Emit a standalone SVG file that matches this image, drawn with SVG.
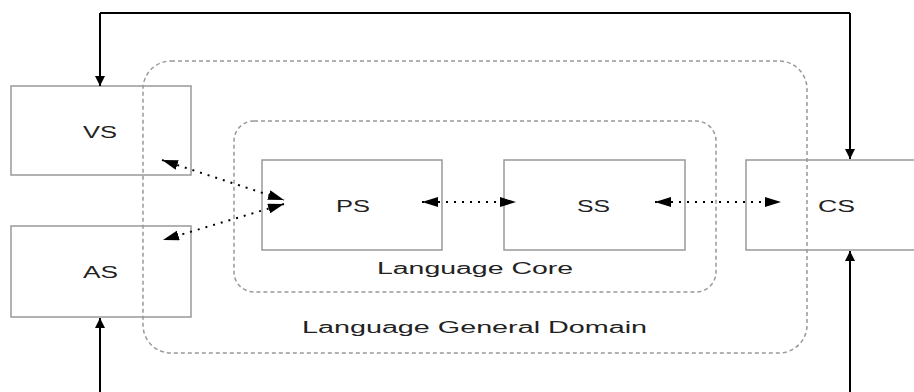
<svg xmlns="http://www.w3.org/2000/svg" width="914" height="392" viewBox="0 0 914 392">
<defs>
<marker id="ah" viewBox="0 0 10 10" refX="10" refY="5" markerWidth="10" markerHeight="10" markerUnits="userSpaceOnUse" orient="auto-start-reverse">
<path d="M0,0 L10,5 L0,10 z" fill="#000"/>
</marker>
<marker id="ad" viewBox="0 0 16 10" refX="16" refY="5" markerWidth="16" markerHeight="10" markerUnits="userSpaceOnUse" orient="auto-start-reverse">
<path d="M0,0 L16,5 L0,10 z" fill="#000"/>
</marker>
</defs>
<style>
.box{fill:none;stroke:#999;stroke-width:1.5}
.grp{fill:none;stroke:#999;stroke-width:1.5;stroke-dasharray:4 3}
.t{font-family:"Liberation Sans",Arial,sans-serif;font-size:16px;fill:#222}
.solid{fill:none;stroke:#000;stroke-width:2}
.dot{fill:none;stroke:#000;stroke-width:2;stroke-dasharray:2 6}
</style>
<rect x="0" y="0" width="914" height="392" fill="#fff"/>
<g id="LanguageGeneralDomain"><rect class="grp" x="143" y="61" width="664" height="292" rx="28"/><text class="t" x="302" y="333" textLength="345" lengthAdjust="spacingAndGlyphs">Language General Domain</text></g>
<g id="LanguageCore"><rect class="grp" x="234" y="121" width="482" height="171" rx="20"/><text class="t" x="377" y="274" textLength="196" lengthAdjust="spacingAndGlyphs">Language Core</text></g>
<g id="VS"><rect class="box" x="11" y="86" width="180" height="89"/><text class="t" x="83" y="138" textLength="34" lengthAdjust="spacingAndGlyphs">VS</text></g>
<g id="AS"><rect class="box" x="11" y="226" width="180" height="91"/><text class="t" x="83" y="278" textLength="35" lengthAdjust="spacingAndGlyphs">AS</text></g>
<g id="PS"><rect class="box" x="262" y="160" width="180" height="90"/><text class="t" x="336" y="212" textLength="34" lengthAdjust="spacingAndGlyphs">PS</text></g>
<g id="SS"><rect class="box" x="504" y="160" width="181" height="90"/><text class="t" x="577" y="212" textLength="33" lengthAdjust="spacingAndGlyphs">SS</text></g>
<g id="CS"><rect class="box" x="746" y="160" width="175" height="90"/><text class="t" x="818" y="212" textLength="37" lengthAdjust="spacingAndGlyphs">CS</text></g>
<g id="connectors">
<polyline class="solid" points="100,13 850,13"/>
<line class="solid" x1="100" y1="13" x2="100" y2="86" marker-end="url(#ah)"/>
<line class="solid" x1="850" y1="13" x2="850" y2="159" marker-end="url(#ah)"/>
<line class="solid" x1="100" y1="392" x2="100" y2="318" marker-end="url(#ah)"/>
<line class="solid" x1="850" y1="392" x2="850" y2="251" marker-end="url(#ah)"/>
<line class="dot" x1="422" y1="202" x2="516" y2="202" marker-start="url(#ad)" marker-end="url(#ad)"/>
<line class="dot" x1="655" y1="202" x2="781" y2="202" marker-start="url(#ad)" marker-end="url(#ad)"/>
<line class="dot" x1="162" y1="160" x2="284" y2="200" marker-start="url(#ad)" marker-end="url(#ad)"/>
<line class="dot" x1="284" y1="204" x2="163" y2="240" marker-start="url(#ad)" marker-end="url(#ad)"/>
</g>
</svg>
